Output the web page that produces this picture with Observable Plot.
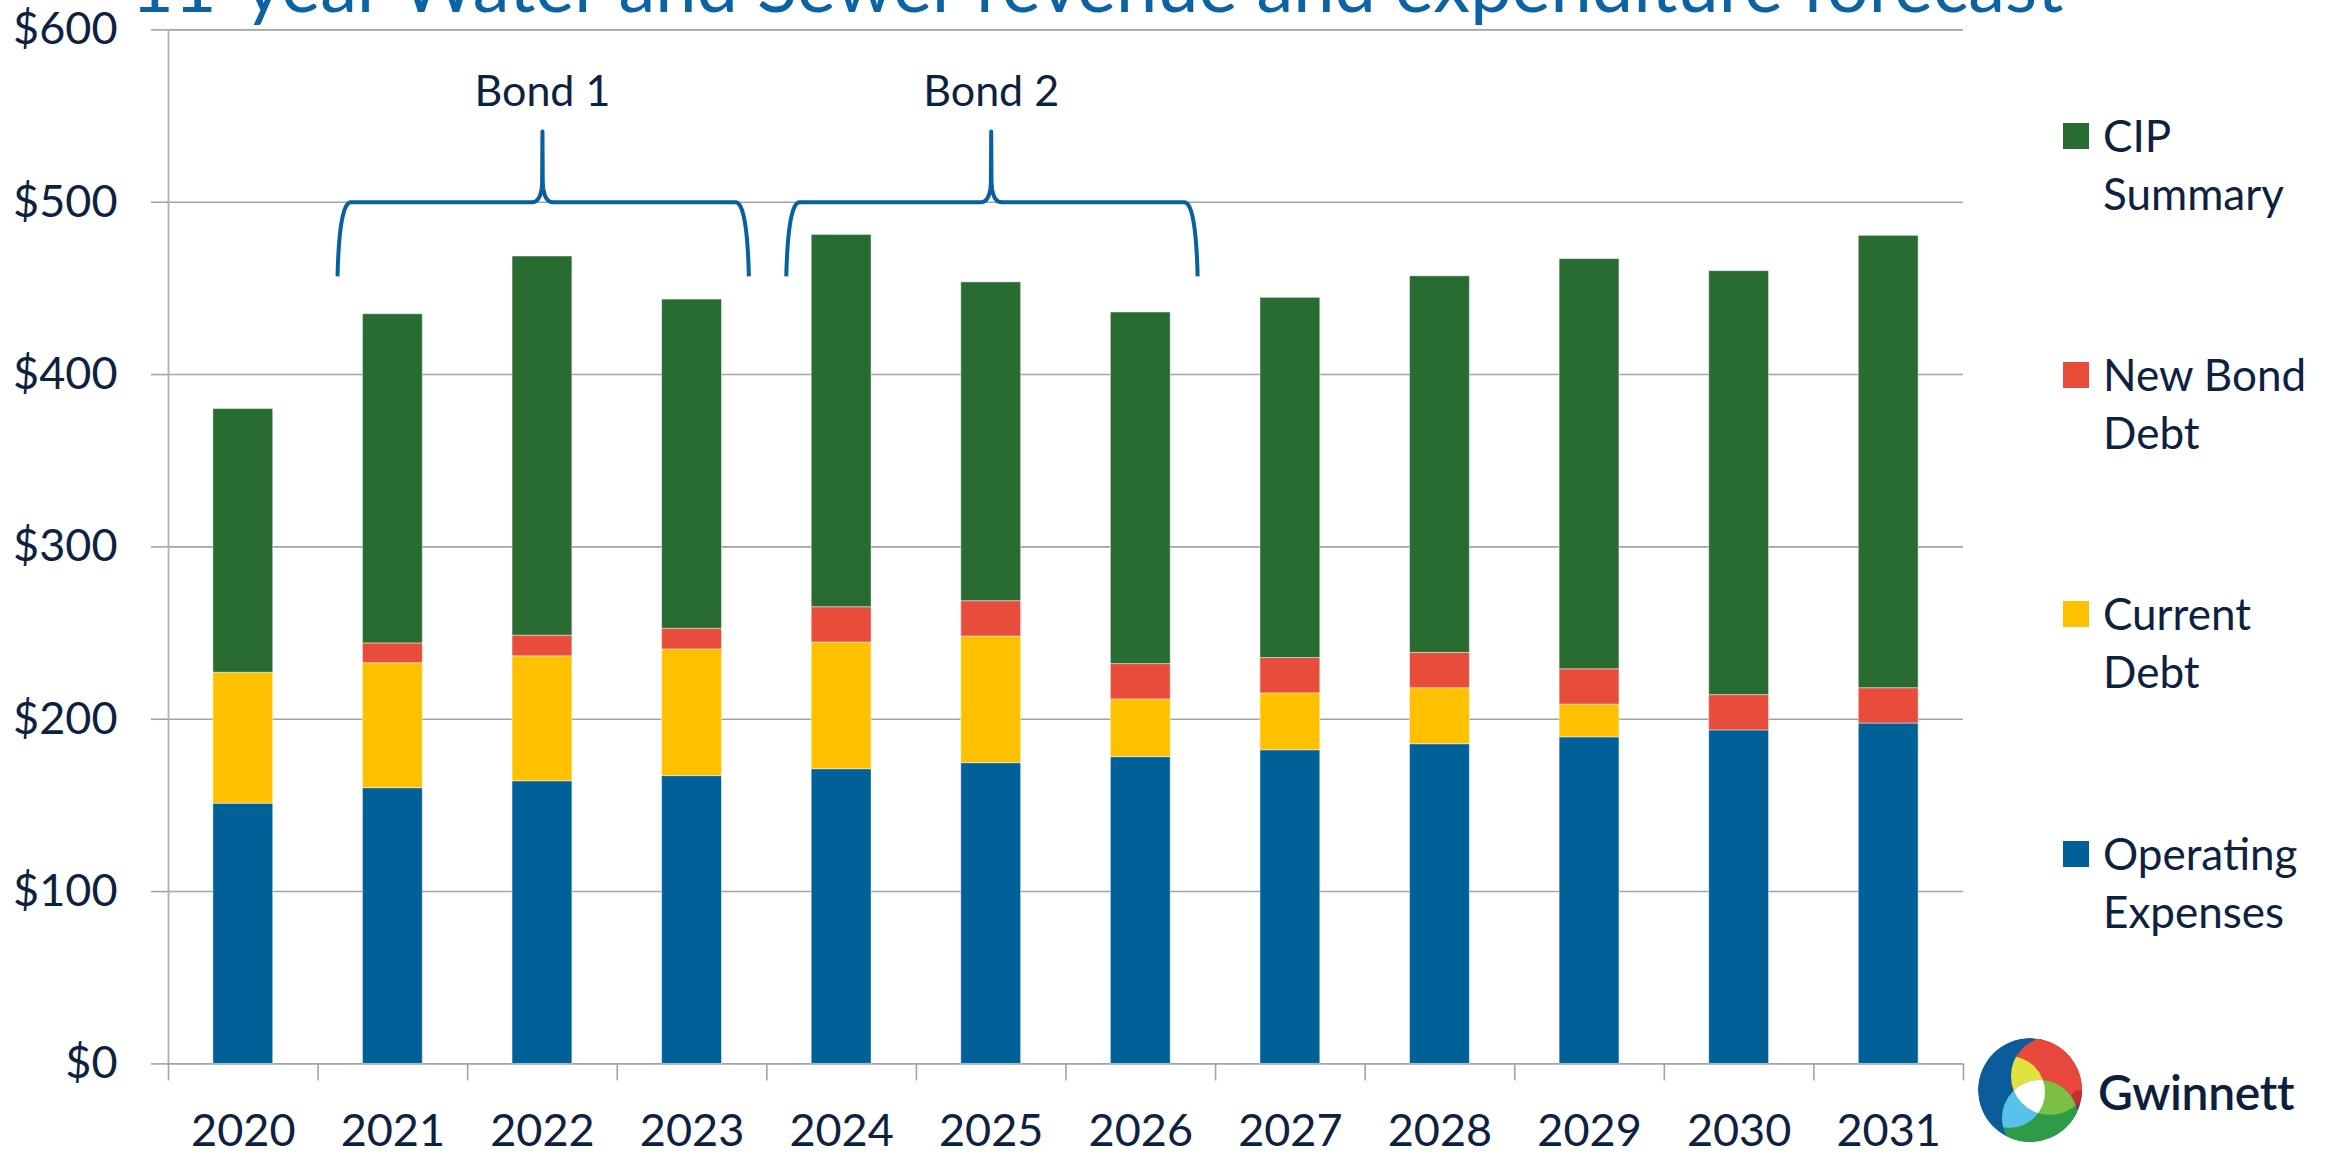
<!DOCTYPE html>
<html>
<head>
<meta charset="utf-8">
<script src="https://cdn.jsdelivr.net/npm/d3@7"></script>
<script src="https://cdn.jsdelivr.net/npm/@observablehq/plot@0.6"></script>
<style>
  html, body { margin: 0; padding: 0; background: #ffffff; }
  body { width: 2328px; height: 1154px; position: relative; overflow: hidden; font-family: Lato, "Open Sans", sans-serif; color: #0d2240; }
  #chart { position: absolute; left: 0; top: 0; }
  #title { position: absolute; left: 131px; white-space: nowrap; color: #0b63a3; line-height: 1; font-weight: 400; }
  .leg-sq { position: absolute; width: 26px; height: 26px; }
  .leg-tx { position: absolute; font-size: 44px; line-height: 58px; white-space: nowrap; color: #0d2240; }
  #logo { position: absolute; left: 1970px; top: 1030px; }
  #logotext { position: absolute; left: 2098px; font-size: 48px; font-weight: 600; color: #0d1f3c; white-space: nowrap; line-height: 1; letter-spacing: -0.3px; }
</style>
</head>
<body>
<div id="title">11-year Water and Sewer revenue and expenditure forecast</div>
<div id="chart"></div>
<div id="legend"></div>
<svg id="logo" width="120" height="120" viewBox="-60 -60 120 120">
  <defs>
    <clipPath id="cOuter"><circle cx="0" cy="0" r="52"/></clipPath>
    <clipPath id="cBlue"><circle cx="-21" cy="2" r="36"/></clipPath>
    <clipPath id="cRed"><circle cx="20" cy="-14" r="39"/></clipPath>
  </defs>
  <g clip-path="url(#cOuter)">
    <circle cx="0" cy="0" r="52" fill="#0b5c9a"/>
    <path d="M-60,-60 L-10,-60 L-40,-40 Z" fill="#0a3260"/>
    <circle cx="20" cy="-14" r="39" fill="#e8473c"/>
    <circle cx="50" cy="10" r="10" fill="#b8232c" opacity="0.7"/>
    <circle cx="10" cy="28" r="38" fill="#2f9a47"/>
    <g clip-path="url(#cBlue)">
      <circle cx="20" cy="-14" r="39" fill="#e2e23e"/>
      <circle cx="10" cy="28" r="38" fill="#58c2ea"/>
    </g>
    <g clip-path="url(#cRed)">
      <circle cx="10" cy="28" r="38" fill="#7bbf45"/>
    </g>
    <g clip-path="url(#cBlue)"><g clip-path="url(#cRed)">
      <circle cx="10" cy="28" r="38" fill="#ffffff"/>
    </g></g>
  </g>
</svg>
<div id="logotext">Gwinnett</div>
<script>
// ---------- data ----------
const years = [2020, 2021, 2022, 2023, 2024, 2025, 2026, 2027, 2028, 2029, 2030, 2031];
const seriesNames = ["Operating Expenses", "Current Debt", "New Bond Debt", "CIP Summary"];
const seriesColors = ["#006098", "#ffc000", "#e84c3a", "#286c32"];
const operatingExpenses = [151, 160, 164, 167, 171, 174.5, 178, 182, 185.5, 189.5, 193.5, 197.5];
const currentDebt       = [76, 72.5, 72.5, 73.5, 73.5, 73.5, 33.5, 33, 32.5, 19, 0, 0];
const newBondDebt       = [0, 11.5, 12, 12, 20.5, 20.5, 20.5, 20.5, 20.5, 20.5, 20.5, 20.5];
const cipSummary        = [153, 191, 220, 191, 216, 185, 204, 209, 218.5, 238, 246, 262.5];
const yTicks = [0, 100, 200, 300, 400, 500, 600];
const yTickLabels = ["$0", "$100", "$200", "$300", "$400", "$500", "$600"];
const bonds = [
  {label: "Bond 1", first: 2021, last: 2023},
  {label: "Bond 2", first: 2024, last: 2026}
];
const legendLines = [
  ["CIP", "Summary"],
  ["New Bond", "Debt"],
  ["Current", "Debt"],
  ["Operating", "Expenses"]
];
const legendSeries = ["CIP Summary", "New Bond Debt", "Current Debt", "Operating Expenses"];

// ---------- table ----------
const seriesValues = [operatingExpenses, currentDebt, newBondDebt, cipSummary];
const rows = [];
years.forEach((yr, i) => {
  seriesNames.forEach((s, k) => {
    const v = seriesValues[k][i];
    if (v > 0) rows.push({year: yr, series: s, value: v});
  });
});

// ---------- braces (annotation geometry derived from bond spans) ----------
function quad(p0, p1, p2, n) {
  const out = [];
  for (let j = 0; j <= n; j++) {
    const t = j / n, u = 1 - t;
    out.push([u*u*p0[0] + 2*u*t*p1[0] + t*t*p2[0], u*u*p0[1] + 2*u*t*p1[1] + t*t*p2[1]]);
  }
  return out;
}
const braceBottom = 457, braceBar = 500, braceTop = 541;
const bracePts = [];
bonds.forEach(b => {
  const xL = b.first - 0.37, xR = b.last + 0.38, xC = (b.first + b.last) / 2;
  let pts = [];
  pts = pts.concat(quad([xL, braceBottom], [xL + 0.012, braceBar], [xL + 0.09, braceBar], 16));
  pts = pts.concat(quad([xC - 0.07, braceBar], [xC - 0.006, braceBar], [xC - 0.002, braceBar + 12], 10));
  pts.push([xC, braceTop]);
  pts = pts.concat(quad([xC + 0.002, braceBar + 12], [xC + 0.006, braceBar], [xC + 0.07, braceBar], 10));
  pts = pts.concat(quad([xR - 0.09, braceBar], [xR - 0.012, braceBar], [xR, braceBottom], 16));
  pts.forEach(p => bracePts.push({bond: b.label, x: p[0], y: p[1]}));
});

const boundaries = years.map(y => y - 0.5).concat([years[years.length - 1] + 0.5]);

const chart = Plot.plot({
  width: 2328,
  height: 1154,
  marginLeft: 168,
  marginRight: 365,
  marginTop: 29.4,
  marginBottom: 90.6,
  x: {domain: [years[0] - 0.5, years[years.length - 1] + 0.5], axis: null},
  y: {domain: [0, 600], axis: null},
  color: {domain: seriesNames, range: seriesColors},
  style: {fontFamily: "Lato, 'Open Sans', sans-serif", fontSize: "45px", color: "#0d2240", background: "transparent", overflow: "visible"},
  marks: [
    Plot.gridY(yTicks, {stroke: "#a3a3a3", strokeOpacity: 1, strokeWidth: 1.6}),
    Plot.axisY(yTicks, {tickSize: 17, tickPadding: 34, stroke: "#a3a3a3", strokeWidth: 1.6,
      tickFormat: d => yTickLabels[yTicks.indexOf(d)], label: null, fontSize: 45}),
    Plot.ruleX([years[0] - 0.5], {stroke: "#b0b0b0", strokeWidth: 1.8}),
    Plot.rectY(rows, Plot.stackY({
      x1: d => d.year - 0.2,
      x2: d => d.year + 0.2,
      y: "value",
      fill: "series",
      order: seriesNames,
      stroke: "#ffffff",
      strokeOpacity: 0.45,
      strokeWidth: 1
    })),
    Plot.axisX(boundaries, {tickSize: 17, stroke: "#a3a3a3", strokeWidth: 1.6, tickFormat: () => "", label: null}),
    Plot.axisX(years, {tickSize: 0, tickPadding: 50, tickFormat: d => String(d), label: null, fontSize: 45}),
    Plot.line(bracePts, {x: "x", y: "y", z: "bond", stroke: "#07609f", strokeWidth: 4, strokeLinejoin: "round", strokeLinecap: "butt"}),
    Plot.text(bonds, {x: d => (d.first + d.last) / 2, y: 564, text: "label", fontSize: 43, fill: "#0d2240"})
  ]
});
document.getElementById("chart").appendChild(chart);

// ---------- title (top part cut off by page edge, as in reference) ----------
const title = document.getElementById("title");
title.style.fontSize = "70px";
title.style.display = "inline-block";
const w0 = title.getBoundingClientRect().width;
const F = 70 * 1933 / w0;
title.style.fontSize = F + "px";
title.style.top = (13 - 0.887 * F) + "px";

// ---------- legend ----------
const legend = document.getElementById("legend");
const centers = [136, 375, 614, 854];
legendSeries.forEach((s, i) => {
  const sq = document.createElement("div");
  sq.className = "leg-sq";
  sq.style.left = "2063px";
  sq.style.top = (centers[i] - 13) + "px";
  sq.style.background = seriesColors[seriesNames.indexOf(s)];
  legend.appendChild(sq);
  const tx = document.createElement("div");
  tx.className = "leg-tx";
  tx.style.left = "2103px";
  tx.style.top = (centers[i] - 30) + "px";
  tx.innerHTML = legendLines[i].join("<br>");
  legend.appendChild(tx);
});

// logo text
const lt = document.getElementById("logotext");
lt.style.top = (1093 - 0.887 * 48 + 0.36 * 48) + "px";
</script>
</body>
</html>
